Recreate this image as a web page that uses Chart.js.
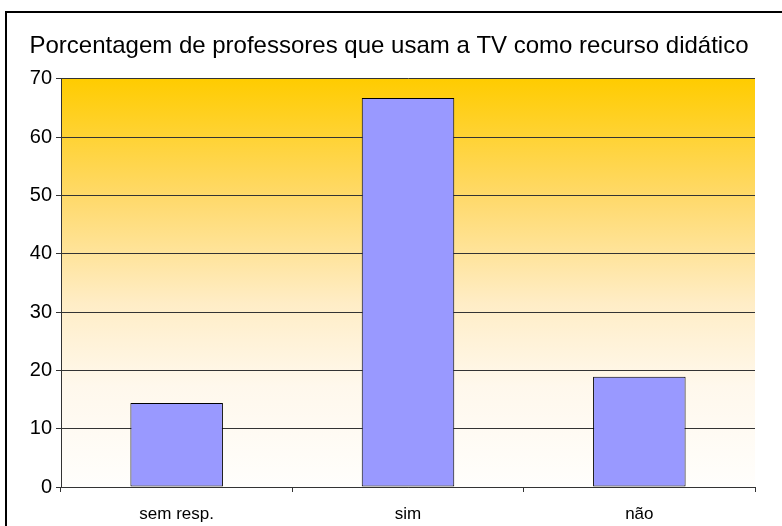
<!DOCTYPE html>
<html>
<head>
<meta charset="utf-8">
<script src="https://cdn.jsdelivr.net/npm/chart.js@4.4.0/dist/chart.umd.min.js"></script>
<style>
  html, body { margin: 0; padding: 0; background: #fff; }
  #wrap { width: 782px; height: 526px; }
</style>
</head>
<body>
<div id="wrap"><canvas id="tvChart" width="782" height="526"></canvas></div>
<script>
/* ── data ── */
const categories = ['sem resp.', 'sim', 'não'];
const percentages = [14.4, 66.7, 18.9];
const yTicks = [0, 10, 20, 30, 40, 50, 60, 70];
const chartTitle = 'Porcentagem de professores que usam a TV como recurso didático';

const BAR   = '#9999FF';
const GOLD  = '#FFCC00';
const LINE  = '#333333';
const FONT  = "Arial, 'Liberation Sans', sans-serif";

/* gradient plot background + outer frame */
const backdrop = {
  id: 'backdrop',
  beforeDraw(chart) {
    const { ctx, chartArea: a } = chart;
    ctx.save();
    const g = ctx.createLinearGradient(0, a.top, 0, a.bottom);
    g.addColorStop(0, GOLD);
    g.addColorStop(0.3, '#FFDA6E');
    g.addColorStop(0.55, '#FFEDC6');
    g.addColorStop(0.75, '#FFF8EC');
    g.addColorStop(1, '#FFFEFC');
    ctx.fillStyle = g;
    ctx.fillRect(a.left, a.top, a.right - a.left, a.bottom - a.top);
    ctx.strokeStyle = '#000';
    ctx.lineWidth = 2;
    ctx.beginPath();
    ctx.moveTo(6, 530);
    ctx.lineTo(6, 12);
    ctx.lineTo(790, 12);
    ctx.stroke();
    ctx.restore();
  }
};

new Chart(document.getElementById('tvChart'), {
  type: 'bar',
  data: {
    labels: categories,
    datasets: [{
      data: percentages,
      backgroundColor: BAR,
      borderColor: '#000',
      borderWidth: 1,
      borderSkipped: false,
      barPercentage: 0.4,
      categoryPercentage: 1
    }]
  },
  options: {
    responsive: false,
    animation: false,
    layout: { padding: { left: 23, right: 27, top: 32, bottom: 0 } },
    plugins: {
      legend: { display: false },
      tooltip: { enabled: false },
      title: {
        display: true,
        text: chartTitle,
        color: '#000',
        font: { family: FONT, size: 24, weight: 'normal', lineHeight: 1.2 },
        padding: { top: 0, bottom: 18 }
      }
    },
    scales: {
      x: {
        grid: {
          offset: true,
          drawOnChartArea: false,
          drawTicks: true,
          tickLength: 5,
          color: LINE
        },
        border: { color: LINE, width: 1 },
        ticks: { color: '#000', font: { family: FONT, size: 17 }, padding: 12 },
        afterFit: s => { s.height = 39; }
      },
      y: {
        min: 0,
        max: 70,
        afterBuildTicks: s => { s.ticks = yTicks.map(v => ({ value: v })); },
        grid: { color: LINE, tickLength: 5, lineWidth: 1 },
        border: { color: LINE, width: 1 },
        ticks: { color: '#000', font: { family: FONT, size: 20 }, padding: 4 },
        afterFit: s => { s.width = 38; }
      }
    }
  },
  plugins: [backdrop]
});
</script>
</body>
</html>
